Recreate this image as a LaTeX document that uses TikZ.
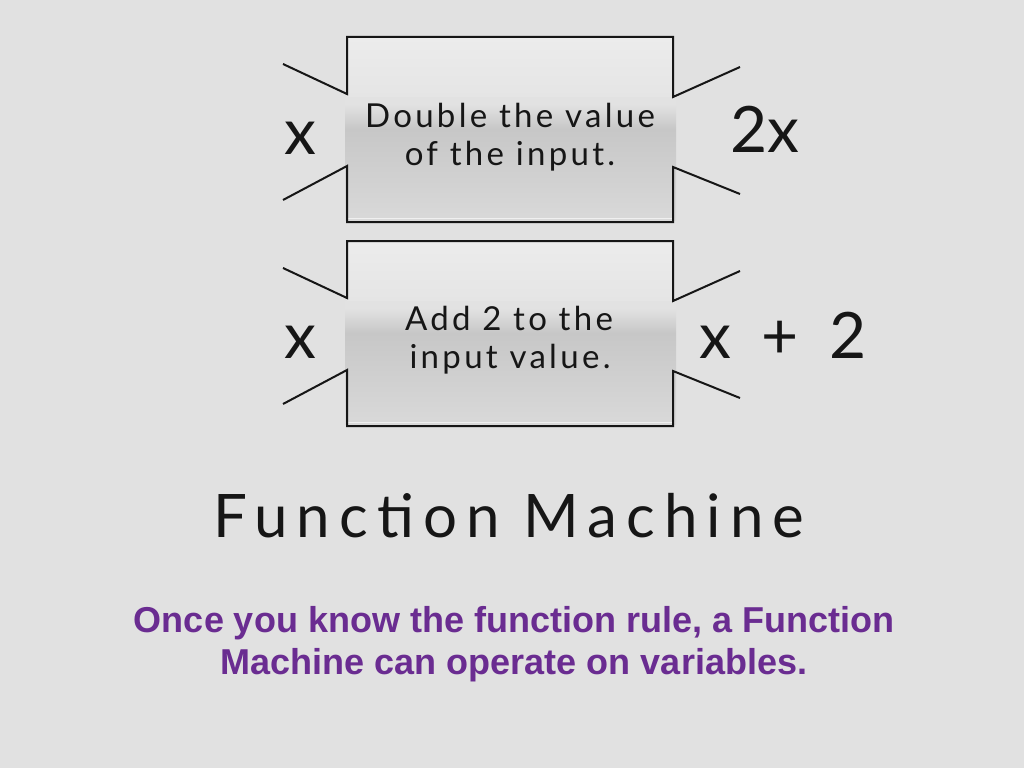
\documentclass[tikz,border=0pt]{standalone}
\usepackage{fontspec}
\setmainfont{Lato}
\setsansfont{Liberation Sans}
\definecolor{bg}{RGB}{225,225,225}
\definecolor{purp}{RGB}{106,44,145}
\definecolor{ink}{RGB}{22,22,22}
\definecolor{tA}{RGB}{236,236,236}
\definecolor{tB}{RGB}{229,229,229}
\definecolor{lA}{RGB}{226,226,226}
\definecolor{lB}{RGB}{199,199,199}
\definecolor{lC}{RGB}{217,217,217}
\definecolor{hl}{RGB}{240,240,240}
\pgfdeclareverticalshading{mtop}{100bp}{color(0bp)=(tB); color(25bp)=(tB); color(75bp)=(tA); color(100bp)=(tA)}
\pgfdeclareverticalshading{mlow}{100bp}{color(0bp)=(lC); color(25bp)=(lC); color(62bp)=(lB); color(72bp)=(lA); color(75bp)=(lA); color(100bp)=(lA)}
\tikzset{
  border/.style={draw=ink, line width=2pt, line join=miter},
  hand/.style={font=\fontsize{33}{33}\selectfont\addfontfeatures{LetterSpace=10}, text=ink, inner sep=0pt, anchor=base},
  var/.style={font=\fontsize{64}{64}\selectfont, text=ink, inner sep=0pt, anchor=base},
  ttl/.style={font=\fontsize{60}{60}\selectfont\addfontfeatures{LetterSpace=15}, text=ink, inner sep=0pt, anchor=base},
  note/.style={font=\fontsize{36}{42}\selectfont\sffamily\bfseries, text=purp, inner sep=0pt, anchor=base},
}
\begin{document}
\begin{tikzpicture}[x=1pt,y=-1pt]
\fill[bg] (0,0) rectangle (1024,768);
\useasboundingbox (0,0) rectangle (1024,768);
\foreach \dy in {0,204}{
  \begin{scope}[shift={(0,\dy)}]
    \fill[shading=mtop] (347,37) rectangle (673,97);
    \fill[shading=mlow] (345,97) rectangle (676,220);
    \draw[hl, line width=0.8pt] (348,218) -- (672,218);
    \draw[border] (283,64) -- (347,94) -- (347,37) -- (673,37) -- (673,97) -- (740,67);
    \draw[border] (283,200) -- (347,166) -- (347,222) -- (673,222) -- (673,167) -- (740,194);
  \end{scope}
}
\node[hand] (t1a) at (510,127) {Double the value};
\node[hand] (t1b) at (510,165) {of the input.};
\node[hand] (t2a) at (509,330) {Add 2 to the};
\node[hand] (t2b) at (510,368) {input value.};
\node[var] (in1) at (300,154) {x};
\node[var] (out1) at (765,152) {2x};
\node[var] (in2) at (300,358) {x};
\node[var] (out2) at (783,358) {x \hspace{14pt}+\hspace{14pt} 2};
\node[ttl] (title) at (509,537) {Function Machine};
\node[note] (n1) at (514,632) {Once you know the function rule, a Function};
\node[note] (n2) at (514,674) {Machine can operate on variables.};
\end{tikzpicture}
\end{document}
